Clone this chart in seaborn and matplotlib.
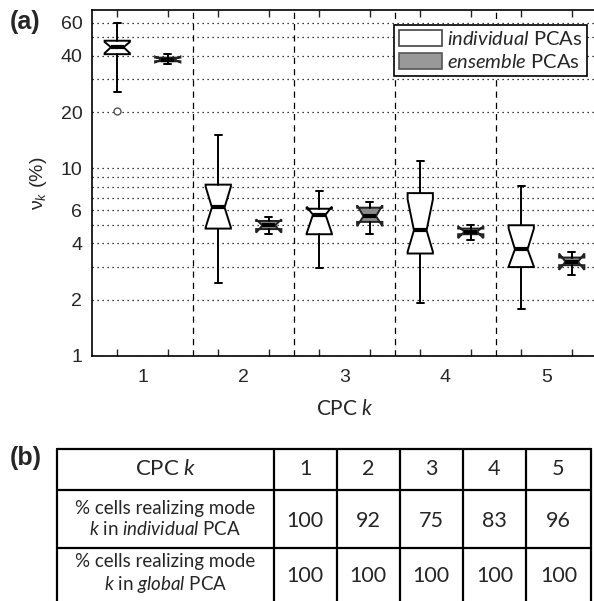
import matplotlib
matplotlib.use("Agg")
import matplotlib.pyplot as plt
import matplotlib.patches as mpatches
import seaborn as sns

# values (percent of variance)
cpc = [1, 2, 3, 4, 5]

ind_lo = [25.5, 2.44, 2.96, 1.92, 1.77]
ind_q1 = [40.7, 4.78, 4.46, 3.52, 2.98]
ind_med = [44.3, 6.2, 5.67, 4.68, 3.71]
ind_q3 = [48.0, 8.2, 6.1, 7.39, 4.98]
ind_hi = [60.0, 15.0, 7.55, 11.0, 8.02]
ind_cilo = [41.2, 4.85, 4.5, 3.6, 3.0]
ind_cihi = [47.3, 8.0, 6.25, 6.84, 4.78]
ind_fliers = [[20.3], [], [], [], []]

ens_lo = [36.2, 4.5, 4.46, 4.14, 2.70]
ens_q1 = [37.3, 4.75, 5.19, 4.46, 3.05]
ens_med = [38.1, 4.97, 5.57, 4.6, 3.18]
ens_q3 = [39.0, 5.25, 6.18, 4.78, 3.35]
ens_hi = [40.7, 5.5, 6.62, 5.0, 3.59]
ens_cilo = [36.8, 4.55, 4.92, 4.25, 2.88]
ens_cihi = [39.5, 5.35, 6.36, 4.92, 3.52]

yticks = [1, 2, 4, 6, 10, 20, 40, 60]
ygrid_minor = [3, 5, 7, 8, 9, 30, 50]

# table (b)
table_header = "CPC $k$"
row_individual = [100, 92, 75, 83, 96]
row_global = [100, 100, 100, 100, 100]
row_labels = ["% cells realizing mode\n$k$ in $\\mathit{individual}$ PCA",
              "% cells realizing mode\n$k$ in $\\mathit{global}$ PCA"]

sns.set_style("white")
plt.rcParams['font.family'] = ['Liberation Sans', 'DejaVu Sans']
plt.rcParams['mathtext.fontset'] = 'custom'
plt.rcParams['mathtext.rm'] = 'Lato'
plt.rcParams['mathtext.it'] = 'Lato:italic'
plt.rcParams['mathtext.bf'] = 'Lato:bold'

W, H = 594, 601
fig = plt.figure(figsize=(W / 100, H / 100), dpi=100)
ax = fig.add_axes([92 / W, 1 - 356 / H, 505 / W, 346 / H])


def make_stats(lo, q1, med, q3, hi, cilo, cihi, fliers=None):
    stats = []
    for i in range(len(med)):
        stats.append(dict(whislo=lo[i], q1=q1[i], med=med[i], q3=q3[i], whishi=hi[i],
                          cilo=cilo[i], cihi=cihi[i],
                          fliers=fliers[i] if fliers else []))
    return stats


pos_ind = [k - 0.25 for k in cpc]
pos_ens = [k + 0.25 for k in cpc]

ax.bxp(make_stats(ind_lo, ind_q1, ind_med, ind_q3, ind_hi, ind_cilo, ind_cihi, ind_fliers),
       positions=pos_ind, widths=0.25, capwidths=0.07, shownotches=True, patch_artist=True,
       boxprops=dict(facecolor='white', edgecolor='black', linewidth=1.4),
       medianprops=dict(color='black', linewidth=3),
       whiskerprops=dict(color='black', linewidth=1.4),
       capprops=dict(color='black', linewidth=1.4),
       flierprops=dict(marker='o', markerfacecolor='white', markeredgecolor='#555555',
                       markersize=5, markeredgewidth=1))
ax.bxp(make_stats(ens_lo, ens_q1, ens_med, ens_q3, ens_hi, ens_cilo, ens_cihi),
       positions=pos_ens, widths=0.25, capwidths=0.07, shownotches=True, patch_artist=True,
       boxprops=dict(facecolor='#8c8c8c', edgecolor='#222222', linewidth=1.4),
       medianprops=dict(color='black', linewidth=3),
       whiskerprops=dict(color='black', linewidth=1.4),
       capprops=dict(color='black', linewidth=1.4))

ax.set_yscale('log')
ax.set_ylim(1, 70)
ax.set_xlim(0.5, 5.5)
ax.set_yticks(yticks, labels=[str(v) for v in yticks])
ax.set_yticks(ygrid_minor, minor=True, labels=[''] * len(ygrid_minor))
ax.grid(axis='y', which='both', color='black', linestyle=(0, (1, 3)), linewidth=0.9)
ax.set_axisbelow(True)
for k in cpc[:-1]:
    ax.axvline(k + 0.5, color='black', linestyle=(0, (5, 4)), linewidth=0.9, zorder=0)

ax.set_xticks(pos_ind + pos_ens, labels=[''] * (2 * len(cpc)))
ax.set_xticks(cpc, minor=True, labels=[str(k) for k in cpc])
ax.tick_params(axis='x', which='major', direction='in', length=5, width=1, top=True, bottom=True)
ax.tick_params(axis='x', which='minor', length=0, pad=9, labelsize=14)
ax.tick_params(axis='y', which='both', direction='in', length=0, labelsize=14, pad=7)

for side in ['left', 'bottom', 'top', 'right']:
    ax.spines[side].set_color('black')
    ax.spines[side].set_linewidth(1.2)

ax.set_xlabel("CPC $k$", fontfamily='Lato', fontsize=15, labelpad=10)
ax.set_ylabel("ν$_k$ (%)", fontsize=14, labelpad=8)

handles = [mpatches.Patch(facecolor='white', edgecolor='#444444', linewidth=1.2,
                          label="$\\mathit{individual}$ PCAs"),
           mpatches.Patch(facecolor='#999999', edgecolor='#555555', linewidth=1.2,
                          label="$\\mathit{ensemble}$ PCAs")]
leg = fig.legend(handles=handles, loc='upper right', bbox_to_anchor=(587 / W, 1 - 25 / H),
                 prop={'family': 'Lato', 'size': 14.5}, frameon=True, fancybox=False,
                 edgecolor='black', framealpha=1, handlelength=2.1, handleheight=0.8,
                 handletextpad=0.25, labelspacing=0.25, borderpad=0.25, borderaxespad=0)
leg.get_frame().set_linewidth(1.2)

fig.text(10 / W, 1 - 22 / H, "(a)", fontsize=18, fontweight='bold', va='center', ha='left')
fig.text(10 / W, 1 - 458 / H, "(b)", fontsize=18, fontweight='bold', va='center', ha='left')

# table (b) drawn in pixel coordinates
tax = fig.add_axes([0, 0, 1, (H - 440) / H])
tax.set_xlim(0, W)
tax.set_ylim(H, 440)
tax.axis('off')
col_x = [57, 273.5, 336.5, 399.5, 463, 526, 591]
row_y = [449, 490, 548, 606]
for y in row_y:
    tax.plot([col_x[0], col_x[-1]], [y, y], color='black', linewidth=1.6, clip_on=False)
for x in col_x:
    tax.plot([x, x], [row_y[0], row_y[-1]], color='black', linewidth=1.6, clip_on=False)

tfont = dict(fontfamily='Lato', ha='center', va='center')
tax.text((col_x[0] + col_x[1]) / 2, (row_y[0] + row_y[1]) / 2, table_header, fontsize=16, **tfont)
for i, k in enumerate(cpc):
    cx = (col_x[i + 1] + col_x[i + 2]) / 2
    tax.text(cx, (row_y[0] + row_y[1]) / 2, str(k), fontsize=15.5, **tfont)
    tax.text(cx, (row_y[1] + row_y[2]) / 2 + 2, str(row_individual[i]), fontsize=15.5, **tfont)
    tax.text(cx, (row_y[2] + row_y[3]) / 2 - 1, str(row_global[i]), fontsize=15.5, **tfont)
tax.text((col_x[0] + col_x[1]) / 2, (row_y[1] + row_y[2]) / 2, row_labels[0],
         fontsize=13.5, linespacing=1.25, **tfont)
tax.text((col_x[0] + col_x[1]) / 2, (row_y[2] + row_y[3]) / 2 - 3, row_labels[1],
         fontsize=13.5, linespacing=1.25, **tfont)

fig.savefig("out.png", dpi=100)
